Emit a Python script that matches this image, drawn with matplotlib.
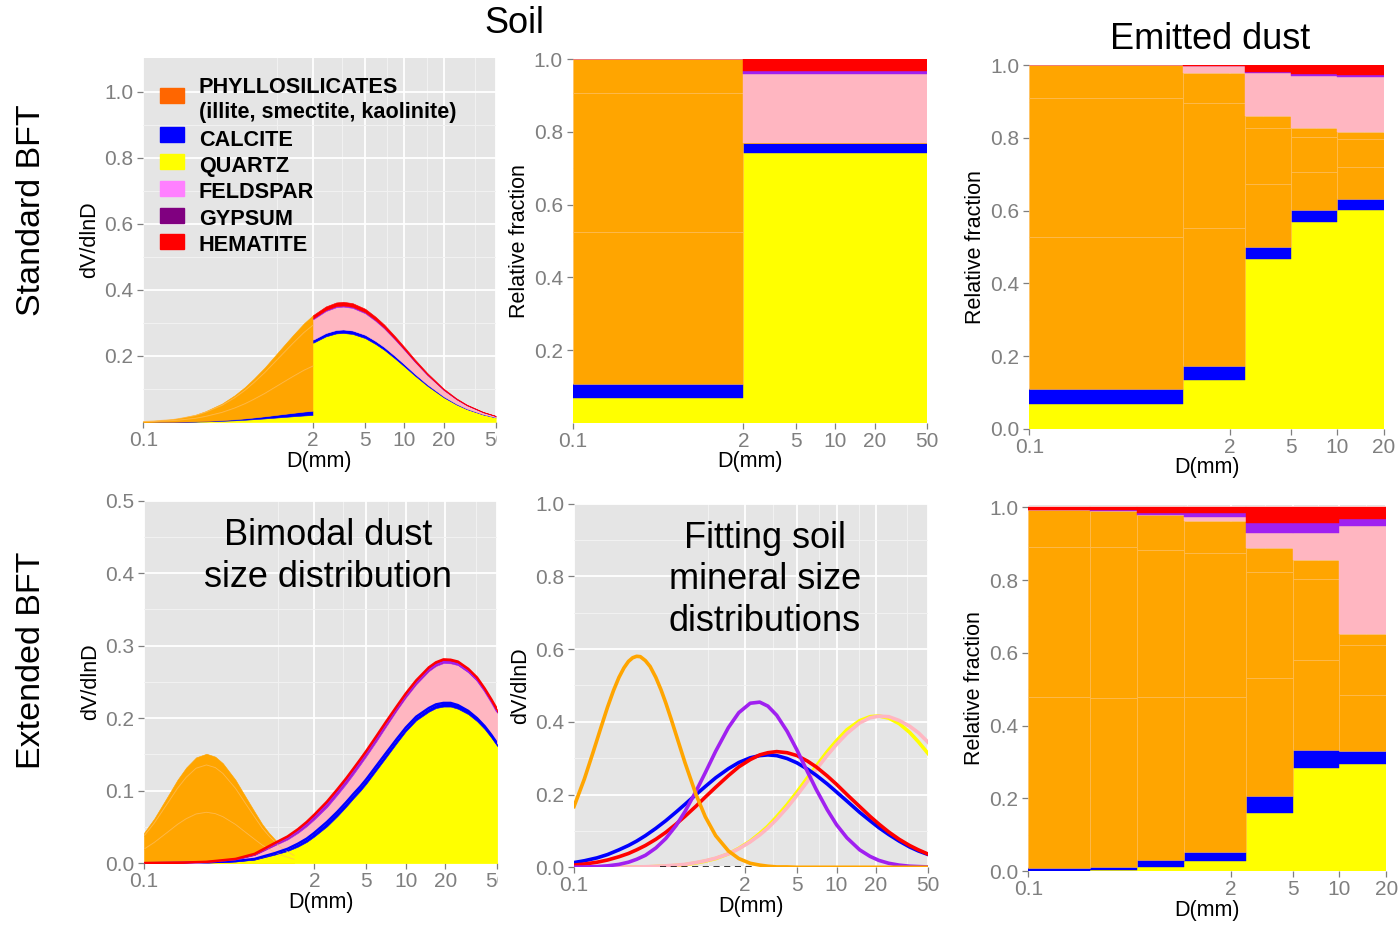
import numpy as np
import matplotlib.pyplot as plt
from matplotlib.patches import Rectangle
from matplotlib.ticker import NullFormatter
from matplotlib.transforms import Bbox, TransformedBbox

plt.rcParams['font.family'] = ['Liberation Sans', 'DejaVu Sans']

W, H = 1398, 925
fig = plt.figure(figsize=(W / 100, H / 100), dpi=100)

QTZ, CAL, CLAY, FELD, GYP, HEM = '#FFFF00', '#0000FF', '#FFA500', '#FFB6C1', '#A020F0', '#FF0000'
CLAY_LINE = '#FFBE5C'
GREY = '#7F7F7F'

# ---------------- data ----------------
# standard BFT: soil size distribution (top left)
d_std = [0.1, 0.13, 0.17, 0.2, 0.25, 0.3, 0.4, 0.5, 0.6, 0.7, 0.85, 1.0, 1.2, 1.4, 1.7, 2.0,
         2.5, 3.0, 3.4, 4.0, 5.0, 6.0, 7.0, 8.5, 10, 12, 15, 20, 25, 30, 40, 50]
dv_std = [0.002, 0.005, 0.009, 0.014, 0.022, 0.033, 0.056, 0.081, 0.106, 0.131, 0.165, 0.197,
          0.233, 0.263, 0.299, 0.324, 0.350, 0.362, 0.364, 0.360, 0.343, 0.319, 0.295, 0.259,
          0.227, 0.190, 0.148, 0.101, 0.072, 0.053, 0.031, 0.019]

# soil mineral fractions, bins 0.1-2 and 2-50
soil_edges = [0.1, 2, 50]
soil_qtz = [0.067, 0.741]
soil_cal = [0.0395, 0.029]
soil_clay = [[0.4185, 0.0], [0.382, 0.0], [0.093, 0.0]]
soil_feld = [0.0, 0.190]
soil_gyp = [0.0, 0.009]
soil_hem = [0.0, 0.031]

# emitted dust fractions, standard BFT
emit_edges = [0.1, 1, 2.5, 5, 10, 20]
emit_qtz = [0.068, 0.133, 0.466, 0.570, 0.602]
emit_cal = [0.040, 0.039, 0.034, 0.032, 0.030]
emit_clay = [[0.420, 0.379, 0.173, 0.105, 0.087],
             [0.381, 0.346, 0.154, 0.097, 0.078],
             [0.091, 0.081, 0.034, 0.023, 0.020]]
emit_feld = [0.0, 0.020, 0.117, 0.144, 0.151]
emit_gyp = [0.0, 0.0, 0.004, 0.005, 0.006]
emit_hem = [0.0, 0.002, 0.018, 0.024, 0.026]

# extended BFT: bimodal dust, fine (clay) mode
d_fine = [0.1, 0.12, 0.15, 0.18, 0.21, 0.25, 0.3, 0.35, 0.4, 0.5, 0.6, 0.7, 0.8, 0.9, 1.0, 1.1, 1.2, 1.4]
dv_fine = [0.042, 0.062, 0.091, 0.115, 0.132, 0.146, 0.151, 0.147, 0.138, 0.115, 0.091, 0.071,
           0.054, 0.042, 0.033, 0.025, 0.020, 0.012]
fine_split = [0.466, 0.432, 0.102]

# extended BFT: coarse mode by mineral
d_coarse = [0.1, 0.2, 0.3, 0.5, 0.7, 1.0, 1.25, 1.5, 1.75, 2.0, 2.5, 3.0, 3.5, 4.0, 4.5, 5.0, 6.0,
            7.0, 8.5, 10, 12, 15, 17, 19.4, 22, 25, 30, 35, 40, 45, 50]
coarse_qtz = [0.0001, 0.0003, 0.0008, 0.0026, 0.005, 0.012, 0.017, 0.023, 0.0295, 0.037, 0.051,
              0.065, 0.078, 0.090, 0.100, 0.110, 0.129, 0.145, 0.1655, 0.182, 0.197, 0.209,
              0.214, 0.216, 0.216, 0.213, 0.2055, 0.1958, 0.185, 0.1732, 0.1615]
coarse_cal = [0.0, 0.0001, 0.0002, 0.0004, 0.001, 0.002, 0.003, 0.004, 0.0045, 0.005, 0.006, 0.006,
              0.006, 0.006, 0.006, 0.006, 0.006, 0.006, 0.0055, 0.005, 0.005, 0.005, 0.005, 0.005,
              0.005, 0.005, 0.0045, 0.0042, 0.004, 0.0038, 0.0035]
coarse_feld = [0.0002, 0.0003, 0.0006, 0.0021, 0.0054, 0.0108, 0.0129, 0.015, 0.0172, 0.0185,
               0.0205, 0.0235, 0.0255, 0.0275, 0.0303, 0.032, 0.034, 0.0365, 0.0395, 0.0415,
               0.0447, 0.0509, 0.053, 0.055, 0.0546, 0.0551, 0.0532, 0.0515, 0.0478, 0.0449, 0.0425]
coarse_gyp = [0.0, 0.0001, 0.0001, 0.0003, 0.0006, 0.0012, 0.0016, 0.002, 0.0025, 0.003, 0.0035,
              0.0035, 0.0035, 0.0035, 0.0032, 0.003, 0.003, 0.0025, 0.002, 0.002, 0.0018, 0.0016,
              0.0015, 0.0015, 0.0014, 0.0014, 0.0013, 0.0012, 0.0012, 0.0011, 0.001]
coarse_hem = [0.0, 0.0002, 0.0003, 0.0006, 0.001, 0.002, 0.0025, 0.003, 0.0033, 0.0035, 0.004,
              0.004, 0.004, 0.004, 0.004, 0.004, 0.004, 0.004, 0.0035, 0.0035, 0.0035, 0.0035,
              0.0035, 0.0035, 0.0035, 0.0035, 0.0035, 0.0033, 0.003, 0.003, 0.003]

# extended BFT: fitted soil mineral size distributions
d_fit_clay = [0.1, 0.12, 0.14, 0.16, 0.18, 0.2, 0.22, 0.24, 0.26, 0.28, 0.3, 0.32, 0.35, 0.38,
              0.42, 0.46, 0.5, 0.55, 0.6, 0.7, 0.85, 1.0, 1.2, 1.5, 1.8, 2.2, 2.6, 3.0, 3.5,
              4.2, 5, 50]
fit_clay = [0.167, 0.243, 0.317, 0.383, 0.440, 0.486, 0.522, 0.548, 0.566, 0.576, 0.580, 0.579,
            0.568, 0.552, 0.522, 0.488, 0.452, 0.407, 0.364, 0.288, 0.200, 0.139, 0.087, 0.045,
            0.024, 0.011, 0.006, 0.003, 0.001, 0.001, 0.0, 0.0]
d_fit = [0.1, 0.12, 0.15, 0.18, 0.22, 0.26, 0.3, 0.35, 0.42, 0.5, 0.6, 0.7, 0.85, 1.0, 1.2, 1.5,
         1.8, 2.2, 2.6, 3.0, 3.5, 4.2, 5, 6, 7, 8.5, 10, 12, 15, 18, 21, 25, 30, 36, 42, 50]
fit_gyp = [0.0004, 0.0008, 0.002, 0.004, 0.008, 0.014, 0.022, 0.033, 0.053, 0.079, 0.115, 0.153,
           0.209, 0.260, 0.319, 0.384, 0.425, 0.451, 0.454, 0.443, 0.418, 0.374, 0.322, 0.263,
           0.214, 0.158, 0.117, 0.081, 0.048, 0.030, 0.019, 0.011, 0.006, 0.003, 0.002, 0.001]
fit_cal = [0.013, 0.018, 0.026, 0.035, 0.048, 0.060, 0.072, 0.087, 0.107, 0.128, 0.152, 0.173,
           0.200, 0.222, 0.246, 0.271, 0.288, 0.301, 0.307, 0.309, 0.307, 0.299, 0.287, 0.270,
           0.253, 0.229, 0.207, 0.182, 0.151, 0.128, 0.109, 0.090, 0.072, 0.056, 0.045, 0.035]
fit_hem = [0.006, 0.009, 0.014, 0.020, 0.029, 0.038, 0.048, 0.060, 0.077, 0.096, 0.119, 0.140,
           0.168, 0.193, 0.220, 0.252, 0.276, 0.296, 0.309, 0.315, 0.318, 0.315, 0.307, 0.292,
           0.276, 0.251, 0.228, 0.200, 0.167, 0.140, 0.119, 0.097, 0.077, 0.060, 0.048, 0.036]
fit_qtz = [0.0, 0.0001, 0.0002, 0.0003, 0.0005, 0.0006, 0.0007, 0.001, 0.002, 0.003, 0.005, 0.007,
           0.012, 0.017, 0.024, 0.037, 0.052, 0.072, 0.093, 0.113, 0.139, 0.172, 0.207, 0.246,
           0.278, 0.318, 0.348, 0.378, 0.403, 0.414, 0.416, 0.410, 0.395, 0.371, 0.345, 0.312]
fit_feld = [0.0, 0.0001, 0.0002, 0.0003, 0.0005, 0.0007, 0.001, 0.0015, 0.0025, 0.004, 0.006,
            0.008, 0.013, 0.018, 0.025, 0.037, 0.051, 0.070, 0.089, 0.108, 0.132, 0.164, 0.198,
            0.236, 0.269, 0.308, 0.338, 0.368, 0.397, 0.411, 0.4155, 0.414, 0.4035, 0.388,
            0.370, 0.343]
zero_d = [0.45, 2.4]
zero_v = [0.0, 0.0]

# emitted dust fractions, extended BFT
ext_edges = [0.1, 0.25, 0.5, 1, 2.5, 5, 10, 20]
ext_qtz = [0.002, 0.004, 0.011, 0.029, 0.159, 0.283, 0.295]
ext_cal = [0.006, 0.009, 0.020, 0.025, 0.048, 0.050, 0.036]
ext_clay = [[0.472, 0.462, 0.447, 0.426, 0.323, 0.248, 0.153],
            [0.410, 0.417, 0.405, 0.394, 0.293, 0.221, 0.138],
            [0.103, 0.098, 0.096, 0.089, 0.066, 0.053, 0.030]]
ext_feld = [0.0, 0.0, 0.0, 0.009, 0.041, 0.074, 0.297]
ext_gyp = [0.0, 0.003, 0.006, 0.012, 0.028, 0.027, 0.019]
ext_hem = [0.007, 0.007, 0.015, 0.016, 0.042, 0.044, 0.032]

legend_labels = ['PHYLLOSILICATES', 'CALCITE', 'QUARTZ', 'FELDSPAR', 'GYPSUM', 'HEMATITE']
legend_colors = ['#FF6600', '#0000FF', '#FFFF00', '#FF80FF', '#800080', '#FF0000']


# ---------------- helpers ----------------
def make_axes(x0, y0, x1, y1):
    return fig.add_axes([x0 / W, 1 - y1 / H, (x1 - x0) / W, (y1 - y0) / H])


def dress(ax, xmax, xticks, ylim, yticks, yminor, ylabel):
    ax.set_facecolor('#E5E5E5')
    ax.set_xscale('log')
    ax.set_xlim(0.1, xmax)
    ax.set_ylim(*ylim)
    for s in ax.spines.values():
        s.set_visible(False)
    ax.set_xticks(xticks)
    ax.set_xticklabels([f'{t:g}' for t in xticks])
    ax.set_xticks([m for m in (1.05, 3.3, 7.3, 14.8, 34.5) if m < xmax], minor=True)
    ax.xaxis.set_minor_formatter(NullFormatter())
    ax.set_yticks(yticks)
    ax.set_yticklabels([f'{t:.1f}' for t in yticks])
    ax.set_yticks(yminor, minor=True)
    ax.grid(True, which='major', color='white', lw=1.3)
    ax.grid(True, which='minor', color='#F2F2F2', lw=0.7)
    ax.set_axisbelow(True)
    ax.tick_params(which='major', length=4.5, width=0.9, color=GREY, labelcolor=GREY, labelsize=15)
    ax.tick_params(axis='x', pad=2)
    ax.tick_params(axis='y', pad=2.5)
    ax.tick_params(which='minor', length=0)
    ax.set_xlabel('D(mm)', fontsize=15.5, labelpad=0.5)
    ax.set_ylabel(ylabel, fontsize=15.5, labelpad=3)


def stacked_bars(ax, edges, layers):
    left = np.array(edges[:-1])
    width = np.diff(edges)
    base = np.zeros(len(left))
    for vals, col, edge in layers:
        vals = np.array(vals, dtype=float)
        ec = [edge if (edge != 'none' and v > 0) else col for v in vals]
        ax.bar(left, vals, width, bottom=base, align='edge', color=col, edgecolor=ec,
               linewidth=0.4 if edge != 'none' else 0.3)
        base = base + vals


def stacked_area(ax, x, parts, colors, top_lws):
    base = np.zeros(len(x))
    for p, c, lw in zip(parts, colors, top_lws):
        top = base + np.array(p)
        ax.fill_between(x, base, top, color=c, lw=0.4, edgecolor=c)
        if lw:
            ax.plot(x, top, color=c, lw=lw, solid_capstyle='butt')
        base = top
    return base


def clip_right(ax, xpix):
    box = TransformedBbox(Bbox([[0, 0], [xpix / W, 1]]), fig.transFigure)
    for lab in ax.get_xticklabels():
        lab.set_clip_box(box)
        lab.set_clip_on(True)


xt50 = [0.1, 2, 5, 10, 20, 50]
xt20 = [0.1, 2, 5, 10, 20]
y_01 = [0.0, 0.2, 0.4, 0.6, 0.8, 1.0]
y_01m = [0.1, 0.3, 0.5, 0.7, 0.9]

# ---------------- panel 1: standard BFT soil distribution ----------------
ax1 = make_axes(143.3, 58.2, 495.7, 422.1)
d = np.array(d_std)
dv = np.array(dv_std)
f = d <= 2
c = d >= 2
parts_f = [dv[f] * soil_qtz[0], dv[f] * soil_cal[0]] + [dv[f] * s[0] for s in soil_clay]
base = np.zeros(f.sum())
for p, col in zip(parts_f, [QTZ, CAL, CLAY, CLAY, CLAY]):
    ax1.fill_between(d[f], base, base + p, color=col, lw=0.4, edgecolor=col)
    base = base + p
acc = dv[f] * (soil_qtz[0] + soil_cal[0])
for s in soil_clay[:2]:
    acc = acc + dv[f] * s[0]
    ax1.plot(d[f], acc, color=CLAY_LINE, lw=0.6, alpha=0.8)
parts_c = [dv[c] * soil_qtz[1], dv[c] * soil_cal[1], dv[c] * soil_feld[1],
           dv[c] * soil_gyp[1], dv[c] * soil_hem[1]]
stacked_area(ax1, d[c], parts_c, [QTZ, CAL, FELD, GYP, HEM], [0, 0, 0, 0, 0])
dress(ax1, 50, xt50, (0, 1.101), [0.2, 0.4, 0.6, 0.8, 1.0], [0.1, 0.3, 0.5, 0.7, 0.9], 'dV/dlnD')
clip_right(ax1, 497)

# legend inside panel 1
box_tops = [88.3, 126.7, 154.0, 180.7, 208.3, 234.3]
text_base = [92.7, 146.0, 172.0, 198.3, 225.0, 250.7]
for top, yb, lab, col in zip(box_tops, text_base, legend_labels, legend_colors):
    fig.add_artist(Rectangle((160 / W, 1 - (top + 15) / H), 24 / W, 15 / H,
                             transform=fig.transFigure, color=col, zorder=5))
    fig.text(199 / W, 1 - yb / H, lab, fontsize=15.6, fontweight='bold', va='baseline', zorder=6)
fig.text(199 / W, 1 - 118.3 / H, '(illite, smectite, kaolinite)', fontsize=15.6,
         fontweight='bold', va='baseline', zorder=6)

# ---------------- panel 2: soil fractions ----------------
ax2 = make_axes(572.7, 59.3, 927.0, 422.7)
stacked_bars(ax2, soil_edges, [(soil_qtz, QTZ, 'none'), (soil_cal, CAL, 'none'),
                               (soil_clay[0], CLAY, CLAY_LINE), (soil_clay[1], CLAY, CLAY_LINE),
                               (soil_clay[2], CLAY, CLAY_LINE), (soil_feld, FELD, 'none'),
                               (soil_gyp, GYP, 'none'), (soil_hem, HEM, 'none')])
dress(ax2, 50, xt50, (0, 1.0), [0.2, 0.4, 0.6, 0.8, 1.0], y_01m, 'Relative fraction')

# ---------------- panel 3: emitted dust, standard ----------------
ax3 = make_axes(1029.3, 65.3, 1383.7, 428.7)
stacked_bars(ax3, emit_edges, [(emit_qtz, QTZ, 'none'), (emit_cal, CAL, 'none'),
                               (emit_clay[0], CLAY, CLAY_LINE), (emit_clay[1], CLAY, CLAY_LINE),
                               (emit_clay[2], CLAY, CLAY_LINE), (emit_feld, FELD, 'none'),
                               (emit_gyp, GYP, 'none'), (emit_hem, HEM, 'none')])
dress(ax3, 20, xt20, (0, 1.0), y_01, y_01m, 'Relative fraction')

# ---------------- panel 4: bimodal dust ----------------
ax4 = make_axes(144.0, 500.5, 497.3, 863.3)
df = np.array(d_fine)
vf = np.array(dv_fine)
base = np.zeros(len(df))
for k, s in enumerate(fine_split):
    ax4.fill_between(df, base, base + vf * s, color=CLAY, lw=0.4, edgecolor=CLAY)
    base = base + vf * s
    if k < 2:
        ax4.plot(df, base, color=CLAY_LINE, lw=0.6, alpha=0.8)
stacked_area(ax4, np.array(d_coarse), [coarse_qtz, coarse_cal, coarse_feld, coarse_gyp, coarse_hem],
             [QTZ, CAL, FELD, GYP, HEM], [0, 1.8, 0, 1.4, 1.8])
dress(ax4, 50, xt50, (0, 0.5), [0.0, 0.1, 0.2, 0.3, 0.4, 0.5],
      [0.05, 0.15, 0.25, 0.35, 0.45], 'dV/dlnD')
clip_right(ax4, 497.5)
ax4.text(0.521, 0.845, 'Bimodal dust\nsize distribution', transform=ax4.transAxes,
         ha='center', va='center', fontsize=26, linespacing=1.27)

# ---------------- panel 5: fitted mineral size distributions ----------------
ax5 = make_axes(574.0, 503.5, 928.3, 867.3)
for vals, col, z in [(fit_qtz, QTZ, 2), (fit_feld, FELD, 3), (fit_cal, CAL, 4),
                     (fit_hem, HEM, 5), (fit_gyp, GYP, 6)]:
    ax5.plot(d_fit, vals, color=col, lw=2.6, zorder=z)
ax5.plot(d_fit_clay, fit_clay, color=CLAY, lw=2.6, zorder=7)
ax5.plot(zero_d, zero_v, color='black', lw=1.1, ls=(0, (4, 3)), zorder=8)
dress(ax5, 50, xt50, (0, 1.0), y_01, y_01m, 'dV/dlnD')
ax5.text(0.539, 0.79, 'Fitting soil\nmineral size\ndistributions', transform=ax5.transAxes,
         ha='center', va='center', fontsize=26, linespacing=1.25)

# ---------------- panel 6: emitted dust, extended ----------------
ax6 = make_axes(1028.3, 505.0, 1386.3, 871.3)
stacked_bars(ax6, ext_edges, [(ext_qtz, QTZ, 'none'), (ext_cal, CAL, 'none'),
                              (ext_clay[0], CLAY, CLAY_LINE), (ext_clay[1], CLAY, CLAY_LINE),
                              (ext_clay[2], CLAY, CLAY_LINE), (ext_feld, FELD, 'none'),
                              (ext_gyp, GYP, 'none'), (ext_hem, HEM, 'none')])
dress(ax6, 20, xt20, (0, 1.0063), y_01, y_01m, 'Relative fraction')

# ---------------- titles ----------------
fig.text(514.5 / W, 1 - 33.3 / H, 'Soil', fontsize=26, ha='center', va='baseline')
fig.text(1210 / W, 1 - 49 / H, 'Emitted dust', fontsize=26, ha='center', va='baseline')
fig.text(31 / W, 1 - 210 / H, 'Standard BFT', fontsize=24.5, rotation=90, ha='center', va='center')
fig.text(31 / W, 1 - 660 / H, 'Extended BFT', fontsize=24.5, rotation=90, ha='center', va='center')

fig.savefig('out.png', dpi=100)
